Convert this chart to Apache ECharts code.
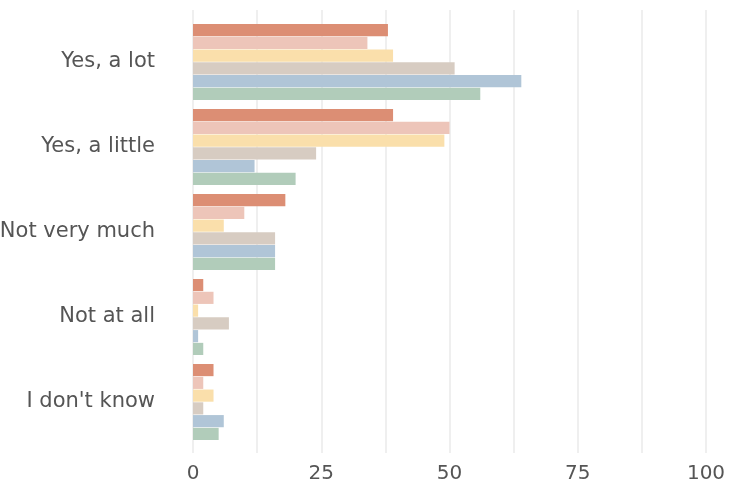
<!DOCTYPE html>
<html>
<head>
<meta charset="utf-8">
<script src="https://cdn.jsdelivr.net/npm/echarts@6/dist/echarts.min.js"></script>
<style>
  html, body { margin: 0; padding: 0; background: #ffffff; }
  #chart { width: 729px; height: 487px; }
</style>
</head>
<body>
<div id="chart"></div>
<script>
// Answer categories, top to bottom
const categories = ['Yes, a lot', 'Yes, a little', 'Not very much', 'Not at all', "I don't know"];

// Six respondent groups (percent)
const group1 = [38, 39, 18, 2, 4];
const group2 = [34, 50, 10, 4, 2];
const group3 = [39, 49, 6, 1, 4];
const group4 = [51, 24, 16, 7, 2];
const group5 = [64, 12, 16, 1, 6];
const group6 = [56, 20, 16, 2, 5];

const xTicks = [0, 25, 50, 75, 100];

const palette = ['#DC8E74', '#EDC5B9', '#FADFAB', '#D7CCC2', '#B0C5D7', '#B1CCBA'];
const groups = [group1, group2, group3, group4, group5, group6];

const FONT = '"DejaVu Sans"';
const TEXT = '#555555';

const chart = echarts.init(document.getElementById('chart'), null, { renderer: 'canvas' });

chart.setOption({
  animation: false,
  backgroundColor: '#ffffff',
  grid: [
    // background grid carrying the vertical guide lines and tick labels
    { left: 193, right: 23, top: 10, bottom: 34, outerBoundsMode: 'none', containLabel: false },
    // bar grid
    { left: 193, right: 23, top: 19.5, bottom: 42.5, outerBoundsMode: 'none', containLabel: false }
  ],
  xAxis: [
    {
      gridIndex: 0, type: 'value', min: 0, max: 100, interval: 12.5,
      axisLine: { show: false }, axisTick: { show: false },
      splitLine: { show: true, lineStyle: { color: '#ebebeb', width: 1.6 } },
      axisLabel: {
        margin: 11, fontFamily: FONT, fontSize: 20, color: TEXT,
        formatter: v => (xTicks.indexOf(v) >= 0 ? String(v) : '')
      }
    },
    {
      gridIndex: 1, type: 'value', min: 0, max: 100,
      show: false
    }
  ],
  yAxis: [
    { gridIndex: 0, type: 'value', show: false },
    {
      gridIndex: 1, type: 'category', data: categories, inverse: true,
      axisLine: { show: false }, axisTick: { show: false },
      splitLine: { show: false },
      axisLabel: { margin: 38, fontFamily: FONT, fontSize: 21, color: TEXT, padding: [4, 0, 0, 0] }
    }
  ],
  series: groups.map((g, i) => ({
    type: 'bar',
    xAxisIndex: 1,
    yAxisIndex: 1,
    data: g,
    itemStyle: { color: palette[i] },
    barGap: '5%',
    barCategoryGap: '10.6%'
  }))
});
</script>
</body>
</html>
